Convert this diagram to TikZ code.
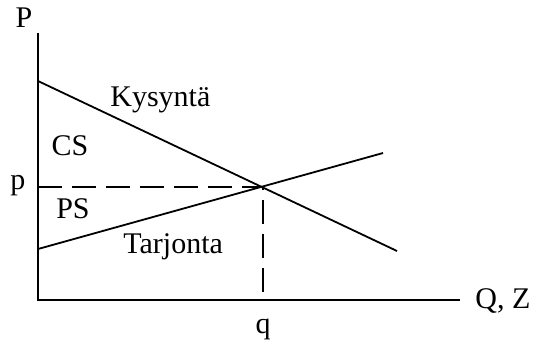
\documentclass[tikz,border=0pt]{standalone}
\usepackage{fontspec}
\setmainfont{Liberation Serif}
\usetikzlibrary{positioning}

\begin{document}
\begin{tikzpicture}[
	  x=0.5pt, y=-0.5pt,
	  every node/.style = {font=\fontsize{15}{18}\selectfont, inner sep=0pt},
	  axis/.style = {line width=0.9pt},
	  curve/.style = {line width=0.9pt},
	  guide/.style = {line width=0.8pt, dash pattern=on 12pt off 5pt}
	]
	  \useasboundingbox (0,0) rectangle (533,343);

	  % axes
	  \coordinate (O) at (38,300);
	  \coordinate (ytop) at (38,33);
	  \coordinate (xend) at (460,300);
	  \draw[axis] (ytop) -- (O) -- (xend);

	  % demand and supply
	  \coordinate (d1) at (38,81);
	  \coordinate (d2) at (397,251);
	  \coordinate (s1) at (38,249);
	  \coordinate (s2) at (383,153);
	  \coordinate (eq) at (263,187);
	  \draw[curve] (d1) -- (d2);
	  \draw[curve] (s1) -- (s2);

	  % equilibrium guides
	  \coordinate (peq) at (38,187);
	  \coordinate (qeq) at (263,292);
	  \draw[guide] (peq) -- (eq) -- (qeq);

	  % labels
	  \node[anchor=base] (P) at (24,27) {P};
	  \node[anchor=base west] (QZ) at (475,308) {Q, Z};
	  \node[anchor=base] (p) at (18,189) {p};
	  \node[anchor=base] (q) at (263,333) {q};
	  \node[anchor=base west] (kys) at (110,106) {Kysyntä};
	  \node[anchor=base] (CS) at (70,155) {CS};
	  \node[anchor=base] (PS) at (73,218) {PS};
	  \node[anchor=base west] (tarj) at (123,253) {Tarjonta};
	\end{tikzpicture}
\end{document}
